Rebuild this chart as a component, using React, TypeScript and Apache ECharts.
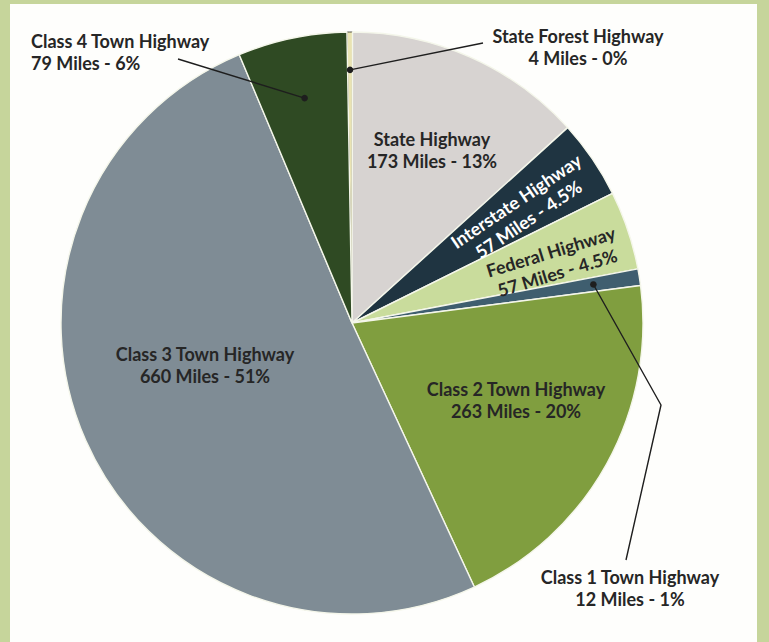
import React, { useEffect, useRef } from "react";
import * as echarts from "echarts";

const names = [
  "State Forest Highway",
  "State Highway",
  "Interstate Highway",
  "Federal Highway",
  "Class 1 Town Highway",
  "Class 2 Town Highway",
  "Class 3 Town Highway",
  "Class 4 Town Highway",
];
const miles = [4, 173, 57, 57, 12, 263, 660, 79];
const pctLabels = ["0%", "13%", "4.5%", "4.5%", "1%", "20%", "51%", "6%"];
const colors = [
  "#e9e3b2",
  "#d7d3d1",
  "#1f3441",
  "#c9dc9c",
  "#3f5e6f",
  "#809e3f",
  "#7f8c95",
  "#2f4a23",
];

const CX = 352;
const CY = 323;
const R = 291;
const START = 91;

// label placement (style, not data)
const labelPlace: Record<number, any> = {
  0: { x: 578, y: 47, align: "center", line: [[483, 43]], dotFrac: 0.87 },
  1: { x: 432, y: 150, align: "center" },
  2: { x: 522, y: 210, align: "center", rotate: 34, color: "#ffffff" },
  3: { x: 554, y: 262, align: "center", rotate: 17 },
  4: { x: 630, y: 588, align: "center", line: [[661, 405], [626, 560]], dotFrac: 0.84 },
  5: { x: 516, y: 400, align: "center" },
  6: { x: 205, y: 365, align: "center" },
  7: { x: 31, y: 52, align: "left", line: [[178, 59]], dotFrac: 0.79 },
};

function dotPoint(i: number): [number, number] {
  const total = miles.reduce((a, b) => a + b, 0);
  let before = 0;
  for (let k = 0; k < i; k++) before += miles[k];
  const mid =
    ((before + miles[i] / 2) / total) * Math.PI * 2 - ((START - 90) * Math.PI) / 180;
  const r = R * (labelPlace[i].dotFrac || 0.8);
  return [CX + r * Math.sin(mid), CY - r * Math.cos(mid)];
}

export default function App() {
  const ref = useRef<HTMLDivElement>(null);
  useEffect(() => {
    if (!ref.current) return;
    const chart = echarts.init(ref.current, undefined, { renderer: "svg" });
    const withLine = [0, 4, 7];
    const data = names.map((n, i) => ({
      name: n,
      value: miles[i],
      itemStyle:
        i === 0
          ? { color: colors[i], borderColor: "#2a2a20", borderWidth: 0.8 }
          : { color: colors[i] },
      label: {
        position: withLine.includes(i) ? "outside" : "inside",
        color: labelPlace[i].color || "#262626",
      },
    }));
    const leaders: any[] = [];
    withLine.forEach((i) => {
      const p = dotPoint(i);
      leaders.push({
        type: "polyline",
        z: 19,
        shape: { points: [p, ...labelPlace[i].line] },
        style: { stroke: "#1e1e1e", lineWidth: 1.4, fill: "none" },
      });
      leaders.push({
        type: "circle",
        z: 20,
        shape: { cx: p[0], cy: p[1], r: 3.3 },
        style: { fill: "#1e1e1e" },
      });
    });
    chart.setOption({
      animation: false,
      backgroundColor: "#c6d59b",
      graphic: [
        {
          type: "rect",
          z: -10,
          shape: { x: 10, y: 4, width: 747, height: 660 },
          style: { fill: "#fefefc" },
        },
        ...leaders,
      ],
      series: [
        {
          type: "pie",
          center: [CX, CY],
          radius: [0, R],
          startAngle: START,
          clockwise: true,
          avoidLabelOverlap: false,
          itemStyle: { borderColor: "#f4f6ea", borderWidth: 1.4 },
          label: {
            show: true,
            fontFamily: "Lato",
            fontWeight: "bold",
            fontSize: 18,
            lineHeight: 22,
            color: "#262626",
            formatter: (p: any) =>
              `${p.name}\n${p.value} Miles - ${pctLabels[p.dataIndex]}`,
          },
          labelLine: { show: false },
          labelLayout: (params: any) => {
            const lp = labelPlace[params.dataIndex];
            return {
              x: lp.x,
              y: lp.y,
              align: lp.align,
              verticalAlign: "middle",
              rotate: lp.rotate || 0,
            };
          },
          data,
        },
      ],
    });
    return () => chart.dispose();
  }, []);
  return (
    <div
      ref={ref}
      style={{ position: "absolute", left: 0, top: 0, width: 769, height: 642 }}
    />
  );
}
